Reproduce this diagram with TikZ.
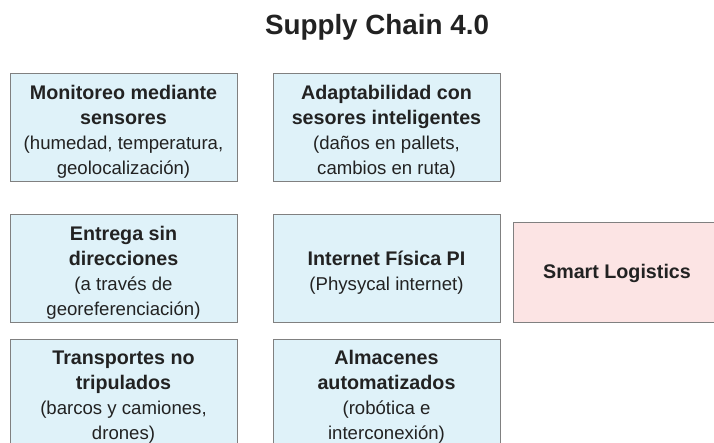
\documentclass[tikz,border=0pt]{standalone}
\usepackage{fontspec}
\setmainfont{Liberation Sans}
\definecolor{boxblue}{HTML}{DFF2F9}
\definecolor{boxpink}{HTML}{FCE4E4}
\definecolor{edgegray}{HTML}{808080}
\definecolor{txt}{HTML}{222222}
\newcommand{\hdl}[1]{{\fontsize{19.7}{25}\selectfont\bfseries #1}}
\begin{document}
\begin{tikzpicture}[x=1pt,y=-1pt,
  cell/.style={draw=edgegray,line width=1pt,fill=boxblue,rectangle,minimum width=227pt,minimum height=108pt,inner sep=0pt},
  pinkcell/.style={cell,fill=boxpink,minimum width=208pt,minimum height=99pt},
  celltext/.style={inner sep=0pt,align=center,text=txt,font=\fontsize{18.6}{25}\selectfont}]
\useasboundingbox (0,0) rectangle (714,443);
\clip (0,0) rectangle (714,443);
\node[text=txt,font=\fontsize{27.8}{30}\selectfont\bfseries] (title) at (377,27) {Supply Chain 4.0};
\node[cell] (mon) at (123.5,128) {};
\node[celltext] (mont) at ([yshift=-4pt]mon.center) {\hdl{Monitoreo mediante}\\\hdl{sensores}\\(humedad, temperatura,\\geolocalización)};
\node[cell] (ada) at (386.5,128) {};
\node[celltext] (adat) at ([yshift=-4pt]ada.center) {\hdl{Adaptabilidad con}\\\hdl{sesores inteligentes}\\(daños en pallets,\\cambios en ruta)};
\node[cell,minimum height=107pt] (ent) at (123.5,268.5) {};
\node[celltext] (entt) at ([yshift=-4pt]ent.center) {\hdl{Entrega sin}\\\hdl{direcciones}\\(a través de\\georeferenciación)};
\node[cell,minimum height=107pt] (int) at (386.5,268.5) {};
\node[celltext] (intt) at ([yshift=-4pt]int.center) {\hdl{Internet Física PI}\\(Physycal internet)};
\node[pinkcell] (sl) at (617,272.5) {};
\node[celltext] (slt) at ([yshift=-1pt]sl.center) {\hdl{Smart Logistics}};
\node[cell] (tra) at (123.5,393) {};
\node[celltext] (trat) at ([yshift=-4pt]tra.center) {\hdl{Transportes no}\\\hdl{tripulados}\\(barcos y camiones,\\drones)};
\node[cell] (alm) at (386.5,393) {};
\node[celltext] (almt) at ([yshift=-4pt]alm.center) {\hdl{Almacenes}\\\hdl{automatizados}\\(robótica e\\interconexión)};
\end{tikzpicture}
\end{document}
